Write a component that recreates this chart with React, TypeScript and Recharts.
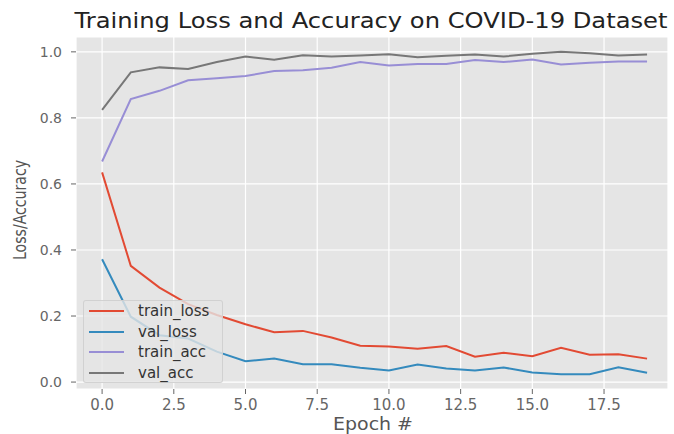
import { LineChart, Line, XAxis, YAxis, CartesianGrid, Legend } from 'recharts'

const epochs = [0, 1, 2, 3, 4, 5, 6, 7, 8, 9, 10, 11, 12, 13, 14, 15, 16, 17, 18, 19]
const trainLoss = [0.635, 0.352, 0.286, 0.236, 0.203, 0.175, 0.151, 0.155, 0.135, 0.11, 0.108, 0.101, 0.109, 0.077, 0.089, 0.078, 0.104, 0.083, 0.084, 0.071]
const valLoss = [0.372, 0.198, 0.142, 0.132, 0.092, 0.063, 0.071, 0.054, 0.054, 0.043, 0.035, 0.053, 0.041, 0.035, 0.044, 0.029, 0.024, 0.024, 0.045, 0.028]
const trainAcc = [0.668, 0.857, 0.882, 0.914, 0.92, 0.927, 0.942, 0.944, 0.952, 0.969, 0.959, 0.963, 0.963, 0.975, 0.969, 0.977, 0.962, 0.967, 0.971, 0.971]
const valAcc = [0.824, 0.938, 0.953, 0.948, 0.969, 0.986, 0.976, 0.99, 0.986, 0.989, 0.993, 0.984, 0.988, 0.992, 0.986, 0.994, 1.0, 0.996, 0.989, 0.992]
const xTicks = [0, 2.5, 5, 7.5, 10, 12.5, 15, 17.5]
const yTicks = [0, 0.2, 0.4, 0.6, 0.8, 1.0]

const series = [
  { key: 'train_loss', color: '#E24A33' },
  { key: 'val_loss', color: '#348ABD' },
  { key: 'train_acc', color: '#988ED5' },
  { key: 'val_acc', color: '#777777' },
]

const data = epochs.map((e, i) => ({
  epoch: e,
  train_loss: trainLoss[i],
  val_loss: valLoss[i],
  train_acc: trainAcc[i],
  val_acc: valAcc[i],
}))

const font = '"DejaVu Sans", sans-serif'

function LegendBox() {
  return (
    <div
      style={{
        width: 140,
        height: 83,
        boxSizing: 'border-box',
        background: 'rgba(229,229,229,0.8)',
        border: '1px solid rgba(204,204,204,0.8)',
        borderRadius: 3,
        paddingTop: 0,
        fontFamily: font,
        fontSize: 15,
        color: '#333',
      }}
    >
      {series.map(s => (
        <div key={s.key} style={{ display: 'flex', alignItems: 'center', height: 20.5 }}>
          <div style={{ width: 35, height: 2, marginLeft: 5, background: s.color }} />
          <span style={{ marginLeft: 14, lineHeight: '20px' }}>{s.key}</span>
        </div>
      ))}
    </div>
  )
}

export default function App() {
  return (
    <div style={{ position: 'fixed', left: 0, top: 0, width: 674, height: 434, background: '#fff' }}>
      <LineChart width={674} height={434} data={data} margin={{ top: 37, right: 6, left: 0, bottom: 0 }}>
        <CartesianGrid fill="#E5E5E5" stroke="#ffffff" strokeWidth={1.2} />
        <XAxis
          dataKey="epoch"
          type="number"
          domain={[-0.91, 19.73]}
          ticks={xTicks}
          allowDataOverflow
          height={45}
          axisLine={false}
          tickSize={5}
          tickMargin={5}
          tickLine={{ stroke: '#666' }}
          tickFormatter={(v: number) => v.toFixed(1)}
          tick={{ fill: '#666', fontSize: 15, fontFamily: font }}
        />
        <YAxis
          type="number"
          domain={[-0.021, 1.045]}
          ticks={yTicks}
          allowDataOverflow
          width={76}
          axisLine={false}
          tickSize={5}
          tickMargin={9}
          tickLine={{ stroke: '#666' }}
          tickFormatter={(v: number) => v.toFixed(1)}
          tick={{ fill: '#666', fontSize: 14, fontFamily: font }}
        />
        {series.map(s => (
          <Line
            key={s.key}
            type="linear"
            dataKey={s.key}
            stroke={s.color}
            strokeWidth={2}
            dot={false}
            isAnimationActive={false}
          />
        ))}
        <Legend
          layout="vertical"
          align="center"
          verticalAlign="middle"
          wrapperStyle={{ left: 83, top: 300, width: 140 }}
          content={() => <LegendBox />}
        />
        <text x={371} y={28} textAnchor="middle" fontFamily={font} fontSize={21} fill="#222" textLength={593} lengthAdjust="spacingAndGlyphs">
          Training Loss and Accuracy on COVID-19 Dataset
        </text>
        <text x={373} y={430} textAnchor="middle" fontFamily={font} fontSize={17} fill="#555" textLength={80} lengthAdjust="spacingAndGlyphs">
          Epoch #
        </text>
        <text
          x={26}
          y={210}
          textAnchor="middle"
          transform="rotate(-90 26 210)"
          fontFamily={font}
          fontSize={17}
          fill="#555"
          textLength={100}
          lengthAdjust="spacingAndGlyphs"
        >
          Loss/Accuracy
        </text>
      </LineChart>
    </div>
  )
}
